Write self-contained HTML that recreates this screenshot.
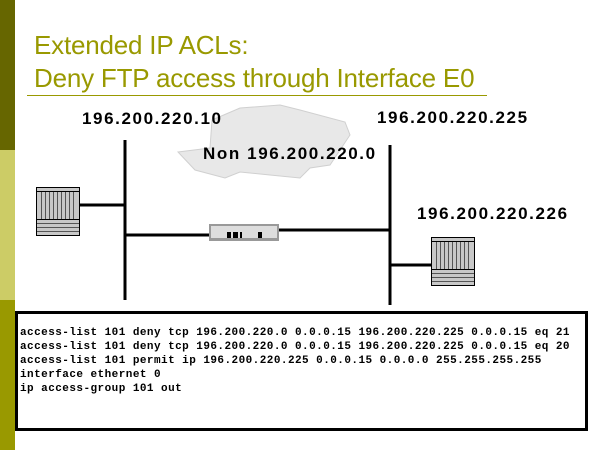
<!DOCTYPE html><html><head><style>
body{margin:0;width:600px;height:450px;position:relative;background:#fff;overflow:hidden;font-family:"Liberation Sans",sans-serif}
.a{position:absolute}
.t{color:#999900;font-size:26px;left:34px;line-height:33px;letter-spacing:-0.2px}
.l{font-weight:bold;font-size:17px;color:#000;letter-spacing:1.6px}
pre{margin:0;font-family:"Liberation Mono",monospace;font-weight:bold;font-size:11px;letter-spacing:0.45px;line-height:14px}
</style></head><body>
<div class="a" style="left:0;top:0;width:15px;height:150px;background:#666600"></div>
<div class="a" style="left:0;top:150px;width:15px;height:150px;background:#cccc66"></div>
<div class="a" style="left:0;top:300px;width:15px;height:150px;background:#999900"></div>
<div class="a t" style="top:29px">Extended IP ACLs:</div>
<div class="a t" style="top:62px">Deny FTP access through Interface E0</div>
<div class="a" style="left:27px;top:95px;width:460px;height:1px;background:#999900"></div>
<svg class="a" style="left:0;top:0" width="600" height="450">
<path d="M178,152 L210,148 L212,120 L240,108 L280,105 L300,110 L345,122 L350,135 L340,150 L330,165 L310,168 L300,178 L270,175 L240,172 L225,178 L195,170 Z" fill="#e8e8e8" stroke="#d0d0d0"/>
<g stroke="#000" stroke-width="3">
<line x1="125" y1="140" x2="125" y2="300"/>
<line x1="80" y1="205" x2="125" y2="205"/>
<line x1="125" y1="235" x2="210" y2="235"/>
<line x1="279" y1="230" x2="390" y2="230"/>
<line x1="390" y1="145" x2="390" y2="305"/>
<line x1="390" y1="265" x2="435" y2="265"/>
</g>
<g stroke="#000" stroke-width="1">
<rect x="36.5" y="187.5" width="43" height="48" fill="#c8c8c8"/>
<line x1="37" y1="191.5" x2="79" y2="191.5"/><line x1="37" y1="219.5" x2="79" y2="219.5"/>
<rect x="431.5" y="237.5" width="43" height="48" fill="#c8c8c8"/>
<line x1="432" y1="241.5" x2="474" y2="241.5"/><line x1="432" y1="269.5" x2="474" y2="269.5"/>
</g>
<g stroke="#555" stroke-width="1">
<path d="M41.5,192V219M45.5,192V219M49.5,192V219M53.5,192V219M57.5,192V219M61.5,192V219M65.5,192V219M69.5,192V219M73.5,192V219M37,223.5H79M37,227.5H79M37,231.5H79"/>
<path d="M436.5,242V269M440.5,242V269M444.5,242V269M448.5,242V269M452.5,242V269M456.5,242V269M460.5,242V269M464.5,242V269M468.5,242V269M432,273.5H474M432,277.5H474M432,281.5H474"/>
</g>
<rect x="209" y="224" width="70" height="17" fill="#999"/>
<rect x="211" y="226" width="66" height="12" fill="#ddd"/>
<g fill="#000"><rect x="227" y="232" width="4" height="6"/><rect x="233" y="232" width="5" height="6"/><rect x="240" y="232" width="2" height="6"/><rect x="258" y="232" width="4" height="6"/></g>
</svg>
<div class="a l" style="left:82px;top:109px">196.200.220.10</div>
<div class="a l" style="left:377px;top:108px">196.200.220.225</div>
<div class="a l" style="left:203px;top:144px">Non 196.200.220.0</div>
<div class="a l" style="left:417px;top:204px">196.200.220.226</div>
<div class="a" style="left:15px;top:311px;width:567px;height:114px;border:3px solid #000"></div>
<pre class="a" style="left:20px;top:326px">access-list 101 deny tcp 196.200.220.0 0.0.0.15 196.200.220.225 0.0.0.15 eq 21
access-list 101 deny tcp 196.200.220.0 0.0.0.15 196.200.220.225 0.0.0.15 eq 20
access-list 101 permit ip 196.200.220.225 0.0.0.15 0.0.0.0 255.255.255.255
interface ethernet 0
ip access-group 101 out</pre>
</body></html>
